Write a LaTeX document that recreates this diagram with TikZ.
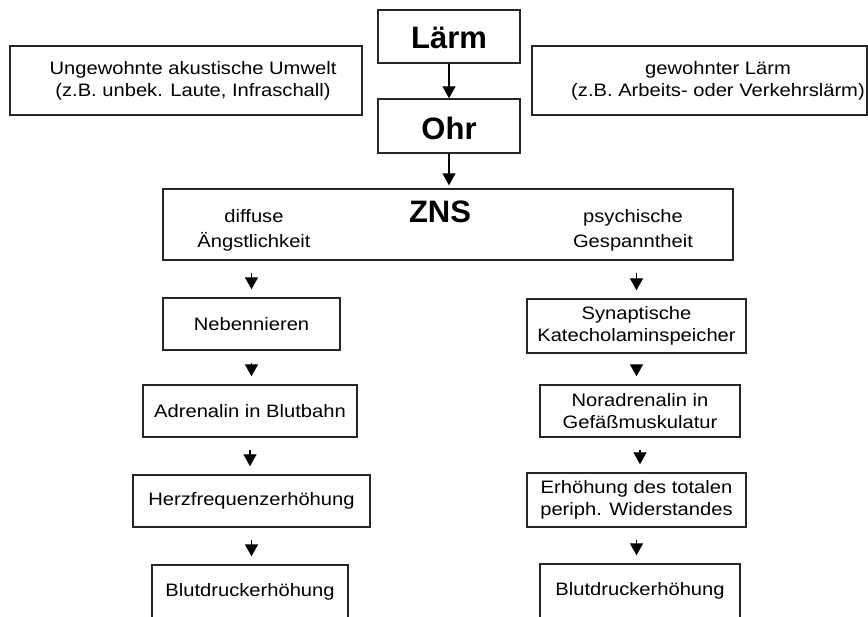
\documentclass[tikz,border=0pt]{standalone}
\usepackage{fontspec}
\setmainfont[FakeStretch=1.12]{Liberation Sans}
\newfontfamily\titelfont{Liberation Sans}
\usetikzlibrary{arrows.meta}

\tikzset{
  box/.style={draw=black!85, line width=1.4pt, inner sep=0pt, align=center,
    font=\fontsize{18}{22}\selectfont},
  txt/.style={inner sep=0pt, align=center, font=\fontsize{18}{22}\selectfont},
  titel/.style={inner sep=0pt, font=\titelfont\bfseries\fontsize{31}{34}\selectfont},
  pfeil/.style={line width=1.4pt, -{Triangle[width=13pt,length=12pt]}},
  kurz/.style={pfeil, shorten <=12pt, shorten >=8pt},
}

\begin{document}
\begin{tikzpicture}[x=1pt,y=-1pt]
  \useasboundingbox (0,0) rectangle (868,617);

  % oben: Laerm -> Ohr -> ZNS
  \node[box, minimum width=142pt, minimum height=53pt] (laerm) at (449,36.5) {};
  \node[titel] (laermtxt) at (449,38) {Lärm};
  \node[box, minimum width=142pt, minimum height=54pt] (ohr) at (449,126) {};
  \node[titel] (ohrtxt) at (449,128) {Ohr};

  \node[box, minimum width=352pt, minimum height=69pt] (umwelt) at (186,80.5) {};
  \node[txt] (umwelttxt) at (193,81) {Ungewohnte akustische Umwelt\\(z.B. unbek. Laute, Infraschall)};
  \node[box, minimum width=335pt, minimum height=69pt] (gewohnt) at (699.5,80.5) {};
  \node[txt] (gewohnttxt) at (718,81) {gewohnter Lärm\\(z.B. Arbeits- oder Verkehrslärm)};

  \node[box, minimum width=570pt, minimum height=71pt] (zns) at (448,224.5) {};
  \node[titel] (znstxt) at (440,212) {ZNS};
  \node[txt, font=\fontsize{18}{25}\selectfont] (angst) at (254,230) {diffuse\\Ängstlichkeit};
  \node[txt, font=\fontsize{18}{25}\selectfont] (spann) at (633,230) {psychische\\Gespanntheit};

  \draw[pfeil] (laerm) -- (ohr);
  \draw[pfeil, shorten >=3pt] (ohr) -- (ohr |- zns.north);

  % linke Kette
  \node[box, minimum width=177pt, minimum height=52pt] (neb) at (251.5,324) {Nebennieren};
  \node[box, minimum width=214pt, minimum height=52pt] (adr) at (250,411) {Adrenalin in Blutbahn};
  \node[box, minimum width=237pt, minimum height=52pt] (herz) at (251.5,501) {Herzfrequenzerhöhung};
  \node[box, minimum width=196pt, minimum height=54pt] (blutL) at (250,592) {Blutdruckerhöhung};

  % rechte Kette
  \node[box, minimum width=219pt, minimum height=54pt] (syn) at (636.5,326) {Synaptische\\Katecholaminspeicher};
  \node[box, minimum width=200pt, minimum height=52pt] (nor) at (640,411) {Noradrenalin in\\Gefäßmuskulatur};
  \node[box, minimum width=219pt, minimum height=54pt] (erh) at (636.5,500) {Erhöhung des totalen\\periph. Widerstandes};
  \node[box, minimum width=200pt, minimum height=54pt] (blutR) at (640,591) {Blutdruckerhöhung};

  \draw[kurz] (zns.south -| neb.north) -- (neb.north);
  \draw[kurz] (zns.south -| syn.north) -- (syn.north);
  \foreach \a/\b in {neb/adr, adr/herz, herz/blutL, syn/nor, nor/erh, erh/blutR}
    \draw[kurz] (\a.south) -- (\a.south |- \b.north);
\end{tikzpicture}
\end{document}
